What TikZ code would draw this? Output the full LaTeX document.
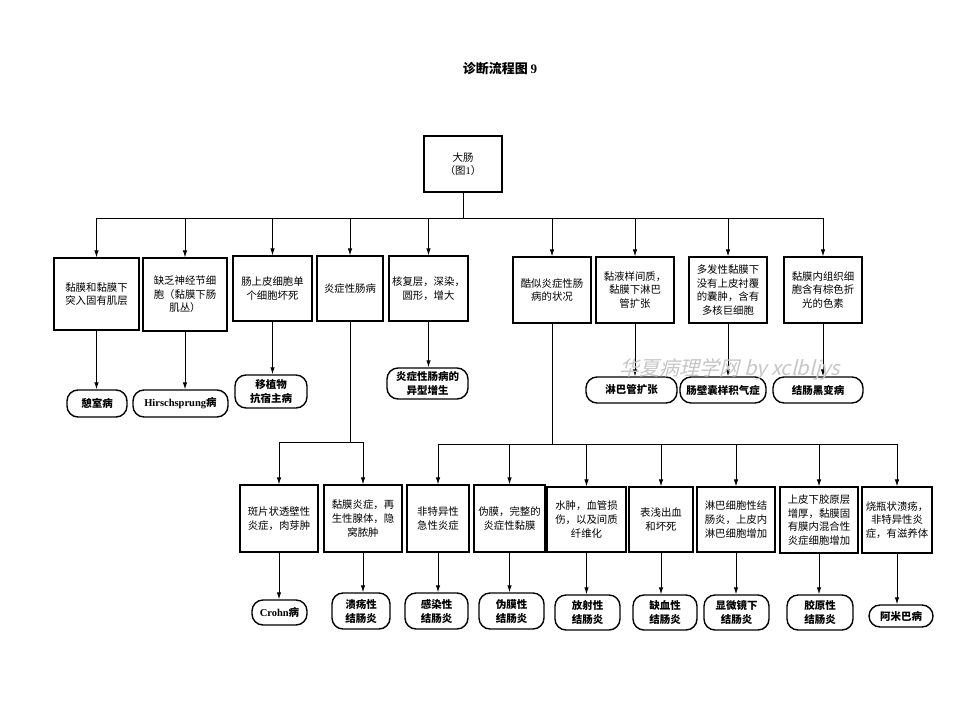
\documentclass[tikz,border=0pt]{standalone}
\usepackage{fontspec}
\setmainfont{Noto Sans CJK SC}
\newfontfamily\lat{Liberation Serif}
\newfontfamily\wmfont[FakeSlant=0.25]{Noto Sans CJK SC}
\usetikzlibrary{arrows.meta}
\tikzset{
  box/.style={draw, line width=1.2pt, align=center, inner sep=0pt, font=\fontsize{10.4}{13.6}\selectfont},
  res/.style={draw, line width=1.4pt, rounded corners=11pt, align=center, inner sep=0pt, font=\fontsize{10.5}{14}\selectfont\bfseries},
  arr/.style={line width=0.9pt, -{Latex[length=7pt,width=4.5pt]}},
  ln/.style={line width=0.9pt}
}
\begin{document}
\begin{tikzpicture}[x=1pt,y=-1pt]
\useasboundingbox[fill=white] (0,0) rectangle (960,720);
% title
\node[font=\fontsize{13}{15}\selectfont\bfseries] (title) at (500,69) {诊断流程图 {\lat\bfseries 9}};
% top
\node[box, minimum width=78pt, minimum height=56pt] (T) at (463,164) {大肠\\（图{\lat 1}）};
% row 1
\node[box, minimum width=85pt, minimum height=72pt] (B1) at (96.5,294) {黏膜和黏膜下\\突入固有肌层};
\node[box, minimum width=84pt, minimum height=73pt] (B2) at (185,294.5) {缺乏神经节细\\胞（黏膜下肠\\肌丛）};
\node[box, minimum width=79pt, minimum height=65pt] (B3) at (272.5,288.5) {肠上皮细胞单\\个细胞坏死};
\node[box, minimum width=66pt, minimum height=65pt] (B4) at (350,288.5) {炎症性肠病};
\node[box, minimum width=79pt, minimum height=65pt] (B5) at (428.5,288.5) {核复层，深染，\\圆形，增大};
\node[box, minimum width=78pt, minimum height=66pt] (B6) at (552,290) {酷似炎症性肠\\病的状况};
\node[box, minimum width=78pt, minimum height=66pt] (B7) at (635,290) {黏液样间质，\\黏膜下淋巴\\管扩张};
\node[box, minimum width=78pt, minimum height=66pt] (B8) at (728,290) {多发性黏膜下\\没有上皮衬覆\\的囊肿，含有\\多核巨细胞};
\node[box, minimum width=78pt, minimum height=66pt] (B9) at (823,290) {黏膜内组织细\\胞含有棕色折\\光的色素};
% row 1 results
\node[res, minimum width=60pt, minimum height=27pt] (O1) at (97,403.5) {憩室病};
\node[res, minimum width=95pt, minimum height=27pt] (O2) at (180.5,403.5) {{\lat\bfseries Hirschsprung}病};
\node[res, minimum width=72pt, minimum height=33pt] (O3) at (271,391.5) {移植物\\抗宿主病};
\node[res, minimum width=81pt, minimum height=31pt] (O5) at (427.5,383.5) {炎症性肠病的\\异型增生};
\node[res, minimum width=91pt, minimum height=26pt] (O7) at (631.5,390) {淋巴管扩张};
\node[res, minimum width=86pt, minimum height=26pt] (O8) at (723,390) {肠壁囊样积气症};
\node[res, minimum width=90pt, minimum height=26pt] (O9) at (818,390) {结肠黑变病};
% row 2
\node[box, minimum width=78pt, minimum height=67pt] (C1) at (279,518.5) {斑片状透壁性\\炎症，肉芽肿};
\node[box, minimum width=78pt, minimum height=67pt] (C2) at (363,518.5) {黏膜炎症，再\\生性腺体，隐\\窝脓肿};
\node[box, minimum width=62pt, minimum height=67pt] (C3) at (438,518.5) {非特异性\\急性炎症};
\node[box, minimum width=71pt, minimum height=67pt] (C4) at (509.5,518.5) {伪膜，完整的\\炎症性黏膜};
\node[box, minimum width=79pt, minimum height=65pt] (C5) at (586.5,519.5) {水肿，血管损\\伤，以及间质\\纤维化};
\node[box, minimum width=64pt, minimum height=65pt] (C6) at (661,519.5) {表浅出血\\和坏死};
\node[box, minimum width=78pt, minimum height=65pt] (C7) at (736,519.5) {淋巴细胞性结\\肠炎，上皮内\\淋巴细胞增加};
\node[box, minimum width=78pt, minimum height=66pt] (C8) at (819,520) {上皮下胶原层\\增厚，黏膜固\\有膜内混合性\\炎症细胞增加};
\node[box, minimum width=70pt, minimum height=66pt] (C9) at (897,520) {烧瓶状溃疡，\\非特异性炎\\症，有滋养体};
% row 2 results
\node[res, minimum width=55pt, minimum height=25pt] (P1) at (279.5,612.5) {{\lat\bfseries Crohn}病};
\node[res, minimum width=58pt, minimum height=36pt] (P2) at (361,611) {溃疡性\\结肠炎};
\node[res, minimum width=63pt, minimum height=36pt] (P3) at (436.5,611) {感染性\\结肠炎};
\node[res, minimum width=65pt, minimum height=36pt] (P4) at (511.5,611) {伪膜性\\结肠炎};
\node[res, minimum width=65pt, minimum height=35pt] (P5) at (587.5,612.5) {放射性\\结肠炎};
\node[res, minimum width=64pt, minimum height=35pt] (P6) at (665,612.5) {缺血性\\结肠炎};
\node[res, minimum width=65pt, minimum height=35pt] (P7) at (736.5,612.5) {显微镜下\\结肠炎};
\node[res, minimum width=66pt, minimum height=35pt] (P8) at (820,612.5) {胶原性\\结肠炎};
\node[res, minimum width=64pt, minimum height=22pt] (P9) at (901,616) {阿米巴病};
% connectors: top
\coordinate (bar1) at (463,218);
\draw[ln] (T.south) -- (bar1);
\draw[ln] (B1.north |- bar1) -- (B9.north |- bar1);
\foreach \b in {B1,B2,B3,B4,B5,B6,B7,B8,B9}
  \draw[arr] (\b.north |- bar1) -- (\b.north);
% row 1 to results
\draw[arr] (B1.south) -- (B1.south |- O1.north);
\draw[arr] (B2.south) -- (B2.south |- O2.north);
\draw[arr] (B3.south) -- (B3.south |- O3.north);
\draw[arr] (B5.south) -- (B5.south |- O5.north);
\draw[arr] (B7.south) -- (B7.south |- O7.north);
\draw[arr] (B8.south) -- (B8.south |- O8.north);
\draw[arr] (B9.south) -- (B9.south |- O9.north);
% row 2 left
\coordinate (bar2) at (350,442);
\draw[ln] (B4.south) -- (bar2);
\draw[ln] (C1.north |- bar2) -- (C2.north |- bar2);
\foreach \c in {C1,C2}
  \draw[arr] (\c.north |- bar2) -- (\c.north);
% row 2 right
\coordinate (bar3) at (552,444);
\draw[ln] (B6.south) -- (bar3);
\draw[ln] (C3.north |- bar3) -- (C9.north |- bar3);
\foreach \c in {C3,C4,C5,C6,C7,C8,C9}
  \draw[arr] (\c.north |- bar3) -- (\c.north);
% row 2 to results
\foreach \c/\p in {C1/P1,C2/P2,C3/P3,C4/P4,C5/P5,C6/P6,C7/P7,C8/P8,C9/P9}
  \draw[arr] (\c.south) -- (\c.south |- \p.north);
% watermark
\node[text=gray!45, font=\fontsize{20}{22}\wmfont, inner sep=0pt] (wm) at (730,369) {华夏病理学网 by xclbljys};
\end{tikzpicture}
\end{document}
